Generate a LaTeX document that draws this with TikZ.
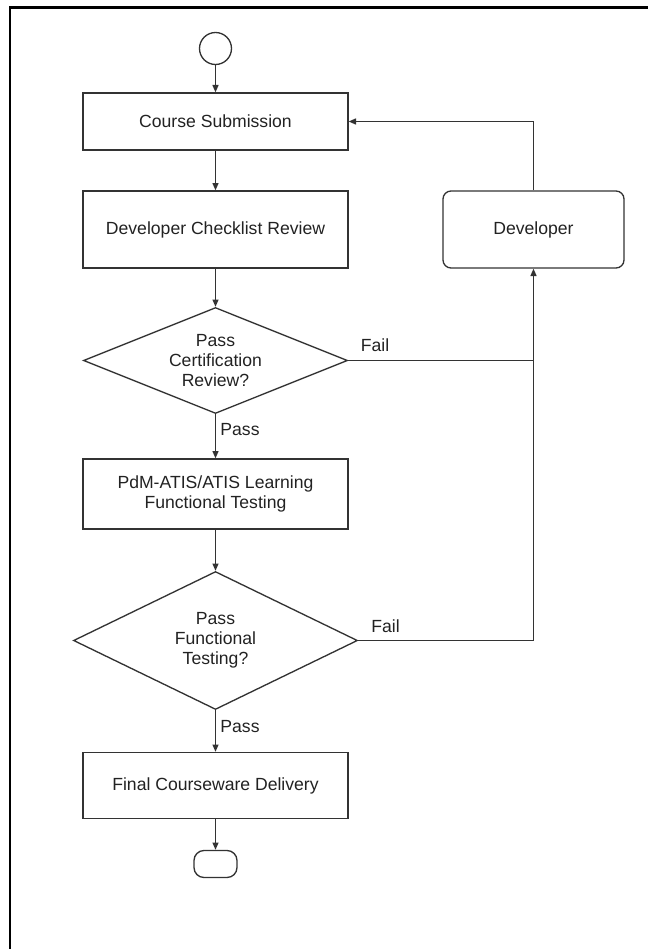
\documentclass[tikz,border=0pt]{standalone}
\usepackage{fontspec}
\setmainfont{Liberation Sans}
\usepackage{xcolor}
\usetikzlibrary{shapes.geometric,arrows.meta}
\tikzset{every picture/.style={line width=0.75pt}}
\newcommand{\flowfont}{\fontsize{13.2}{15}\selectfont}

\begin{document}
\begin{tikzpicture}[x=0.75pt,y=0.75pt,yscale=-1,xscale=1,
  stepbox/.style={draw={rgb, 255:red, 51; green, 51; blue, 51 }, line width=1pt, rectangle, inner sep=0pt, minimum width=198.75pt, align=center, font=\flowfont, text={rgb, 255:red, 34; green, 34; blue, 34 }},
  decision/.style={stepbox, diamond, aspect=2.5, minimum width=198pt, minimum height=79.5pt},
  flowlabel/.style={font=\flowfont, text={rgb, 255:red, 34; green, 34; blue, 34 }, inner sep=0pt},
  flow/.style={draw={rgb, 255:red, 51; green, 51; blue, 51 }, line width=1pt, -{Triangle[length=5.5pt,width=4.5pt]}},
  wire/.style={draw={rgb, 255:red, 51; green, 51; blue, 51 }, line width=1pt}]
\useasboundingbox (0,0) rectangle (648,949);

%Frame
\draw [line width=1.6pt] (10,949) -- (10,7.5) -- (648,7.5) ;

%Shape: Circle
\draw (215.5,48.5) node (start) [stepbox, circle, minimum width=24pt] {} ;
%Shape: Rectangle
\draw (215.5,121.5) node (submit) [stepbox, minimum height=42.75pt] {Course Submission} ;
%Shape: Rectangle
\draw (215.5,229.5) node (checklist) [stepbox, minimum height=57.75pt] {Developer Checklist Review} ;
%Shape: Rounded Rectangle
\draw (533.5,229.5) node (developer) [stepbox, rounded corners=6pt, minimum width=135.75pt, minimum height=57.75pt] {Developer} ;
%Shape: Diamond
\draw (215.5,360.5) node (certreview) [decision] {Pass\\Certification\\Review?} ;
%Shape: Rectangle
\draw (215.5,494) node (lmstest) [stepbox, minimum height=52.5pt] {PdM-ATIS/ATIS Learning\\Functional Testing} ;
%Shape: Diamond
\draw (215.5,640.5) node (functest) [decision, aspect=2.06, minimum width=213pt, minimum height=103.5pt] {Pass\\Functional\\Testing?} ;
%Shape: Rectangle
\draw (215.5,785.5) node (delivery) [stepbox, minimum height=49.5pt] {Final Courseware Delivery} ;
%Shape: Terminator
\draw (215.5,864) node (finish) [stepbox, rounded corners=7.5pt, minimum width=32.25pt, minimum height=20.25pt] {} ;

%Straight Lines
\draw [flow] (start) -- (submit) ;
\draw [flow] (submit) -- (checklist) ;
\draw [flow] (checklist) -- (certreview) ;
\draw [flow] (certreview) -- (lmstest) ;
\draw [flow] (lmstest) -- (functest) ;
\draw [flow] (functest) -- (delivery) ;
\draw [flow] (delivery) -- (finish) ;
%Return lines
\draw [flow] (developer.north) |- (submit.east) ;
\draw [flow] (functest.east) -| (developer.south) ;
\draw [wire] (certreview.east) -- (certreview.east -| developer.south) ;

% Text Node
\draw (375,345) node (failcert) [flowlabel] {Fail} ;
% Text Node
\draw (385.5,626) node (failfunc) [flowlabel] {Fail} ;
% Text Node
\draw (240,430) node (passcert) [flowlabel] {Pass} ;
% Text Node
\draw (240,727) node (passfunc) [flowlabel] {Pass} ;

\end{tikzpicture}
\end{document}
